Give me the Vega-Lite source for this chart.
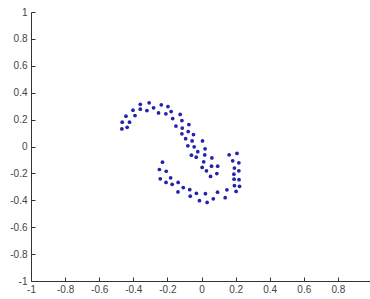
{
  "$schema": "https://vega.github.io/schema/vega-lite/v6.json",
  "width": 341,
  "height": 269,
  "autosize": {"type": "none"},
  "padding": {"left": 31, "top": 12, "right": 0, "bottom": 18},
  "background": "white",
  "config": {"view": {"stroke": null}},
  "data": {"values": [
    {"x": -0.467, "y": 0.131}, {"x": -0.465, "y": 0.181}, {"x": -0.443, "y": 0.225}, {"x": -0.422, "y": 0.181},
    {"x": -0.436, "y": 0.143}, {"x": -0.402, "y": 0.270}, {"x": -0.390, "y": 0.230}, {"x": -0.359, "y": 0.314},
    {"x": -0.359, "y": 0.277}, {"x": -0.307, "y": 0.325}, {"x": -0.320, "y": 0.267}, {"x": -0.281, "y": 0.288},
    {"x": -0.236, "y": 0.310}, {"x": -0.252, "y": 0.250}, {"x": -0.197, "y": 0.297}, {"x": -0.209, "y": 0.243},
    {"x": -0.178, "y": 0.260}, {"x": -0.169, "y": 0.208}, {"x": -0.150, "y": 0.152}, {"x": -0.125, "y": 0.238},
    {"x": -0.115, "y": 0.193}, {"x": -0.113, "y": 0.137}, {"x": -0.115, "y": 0.094}, {"x": -0.093, "y": 0.058},
    {"x": -0.074, "y": 0.163}, {"x": -0.078, "y": 0.111}, {"x": -0.047, "y": 0.089}, {"x": -0.055, "y": 0.041},
    {"x": 0.006, "y": 0.041}, {"x": -0.080, "y": 0.005}, {"x": -0.043, "y": -0.002}, {"x": -0.022, "y": -0.039},
    {"x": 0.021, "y": -0.017}, {"x": -0.059, "y": -0.065}, {"x": -0.031, "y": -0.079}, {"x": 0.019, "y": -0.063},
    {"x": 0.061, "y": -0.085}, {"x": 0.013, "y": -0.114}, {"x": 0.004, "y": -0.156}, {"x": 0.059, "y": -0.146},
    {"x": 0.095, "y": -0.146}, {"x": 0.029, "y": -0.181}, {"x": 0.090, "y": -0.201}, {"x": 0.053, "y": -0.223},
    {"x": 0.162, "y": -0.062}, {"x": 0.208, "y": -0.052}, {"x": 0.183, "y": -0.106}, {"x": 0.219, "y": -0.121},
    {"x": 0.193, "y": -0.160}, {"x": 0.219, "y": -0.181}, {"x": 0.190, "y": -0.206}, {"x": 0.191, "y": -0.243},
    {"x": 0.220, "y": -0.247}, {"x": 0.193, "y": -0.291}, {"x": 0.223, "y": -0.296}, {"x": 0.203, "y": -0.334},
    {"x": -0.229, "y": -0.117}, {"x": -0.247, "y": -0.171}, {"x": -0.207, "y": -0.184}, {"x": -0.242, "y": -0.240},
    {"x": -0.181, "y": -0.233}, {"x": -0.208, "y": -0.267}, {"x": -0.172, "y": -0.281}, {"x": -0.137, "y": -0.267},
    {"x": -0.107, "y": -0.305}, {"x": -0.138, "y": -0.338}, {"x": -0.069, "y": -0.321}, {"x": -0.066, "y": -0.369},
    {"x": -0.030, "y": -0.348}, {"x": -0.012, "y": -0.403}, {"x": 0.023, "y": -0.351}, {"x": 0.033, "y": -0.416},
    {"x": 0.069, "y": -0.389}, {"x": 0.094, "y": -0.340}, {"x": 0.149, "y": -0.322}, {"x": 0.139, "y": -0.381}
  ]},
  "mark": {"type": "point", "shape": "circle", "filled": true, "size": 14, "color": "#2222aa", "opacity": 1},
  "encoding": {
    "x": {
      "field": "x", "type": "quantitative",
      "scale": {"domain": [-1, 1], "nice": false, "zero": false},
      "axis": {
        "title": null, "grid": false, "values": [-1, -0.8, -0.6, -0.4, -0.2, 0, 0.2, 0.4, 0.6, 0.8, 1],
        "labelExpr": "datum.value == 1 ? '' : replace(format(datum.value, '.1~f'), '−', '-')",
        "domainColor": "#333", "tickColor": "#333", "tickSize": -4, "labelPadding": 7,
        "labelFont": "Liberation Sans", "labelFontSize": 10, "labelColor": "#444", "labelFlush": false
      }
    },
    "y": {
      "field": "y", "type": "quantitative",
      "scale": {"domain": [-1, 1], "nice": false, "zero": false},
      "axis": {
        "title": null, "grid": false, "values": [-1, -0.8, -0.6, -0.4, -0.2, 0, 0.2, 0.4, 0.6, 0.8, 1],
        "labelExpr": "replace(format(datum.value, '.1~f'), '−', '-')",
        "domainColor": "#333", "tickColor": "#333", "tickSize": -4, "labelPadding": 8,
        "labelFont": "Liberation Sans", "labelFontSize": 10, "labelColor": "#444", "labelFlush": false
      }
    }
  }
}
